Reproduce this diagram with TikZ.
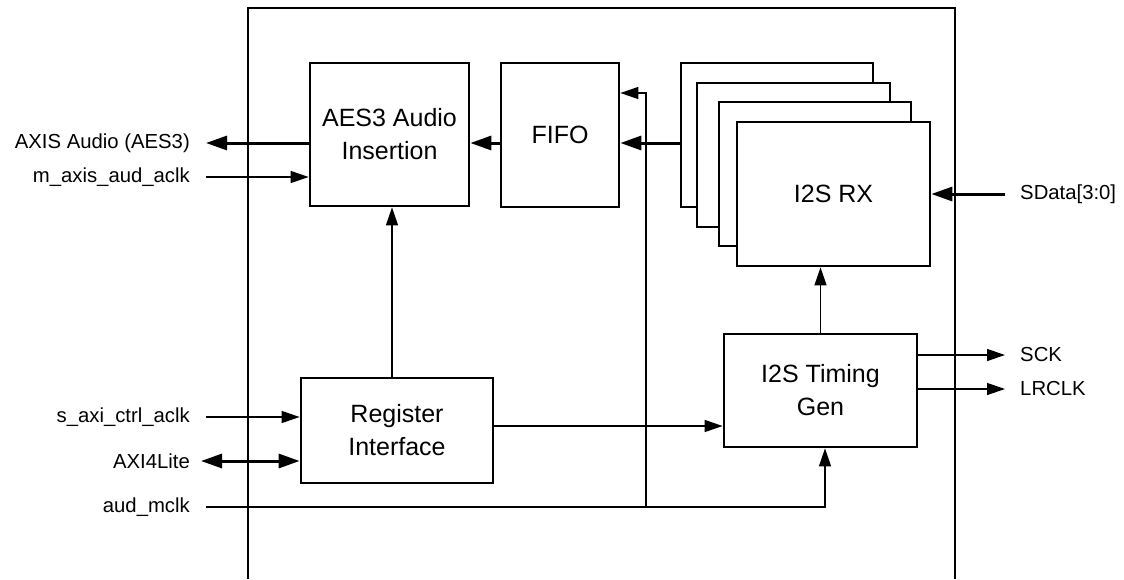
\documentclass[tikz,border=0pt]{standalone}
\usepackage{fontspec}
\setmainfont{Liberation Sans}
\usetikzlibrary{arrows.meta}
\begin{document}
\begin{tikzpicture}[x=1pt,y=-1pt,
  blk/.style={draw, line width=2.7pt, fill=white, align=center, inner sep=0pt,
    font=\fontsize{25}{33}\selectfont},
  lbl/.style={inner ysep=0pt, font=\fontsize{20.3}{23}\selectfont},
  llbl/.style={lbl, anchor=east, inner xsep=16pt},
  rlbl/.style={lbl, anchor=west, inner xsep=15pt},
  thin/.style={line width=1.3pt},
  thk/.style={line width=3pt},
  tarr/.style={thin, -{Triangle[length=18pt,width=12pt]}},
  karr/.style={thk, -{Triangle[length=21pt,width=14pt]}},
  karrb/.style={thk, {Triangle[length=21pt,width=14pt]}-{Triangle[length=21pt,width=14pt]}},
]
\useasboundingbox (0,0) rectangle (1124,579);
% outer frame
\draw[line width=2.5pt] (248,579) -- (248,8) -- (955,8) -- (955,579);

% blocks
\node[blk, minimum width=159pt, minimum height=143pt] (aes) at (389.5,134.5) {AES3 Audio\\Insertion};
\node[blk, minimum width=118pt, minimum height=144pt] (fifo) at (560,135) {FIFO};
\node[blk, minimum width=192pt, minimum height=144pt] (rx1) at (777,135) {};
\node[blk, minimum width=193pt, minimum height=144pt] (rx2) at (793.5,155) {};
\node[blk, minimum width=192pt, minimum height=144pt] (rx3) at (815,174) {};
\node[blk, minimum width=193pt, minimum height=144pt] (rx4) at (833.5,194) {I2S RX};
\node[blk, minimum width=193pt, minimum height=113pt] (tim) at (820.5,390.5) {I2S Timing\\Gen};
\node[blk, minimum width=192pt, minimum height=105pt] (reg) at (397,430.5) {Register\\Interface};

% labels
\node[llbl] (axis) at (206,143) {AXIS Audio (AES3)};
\node[llbl] (maclk) at (206,177) {m\_axis\_aud\_aclk};
\node[llbl] (saxi) at (206,417) {s\_axi\_ctrl\_aclk};
\node[llbl, inner xsep=11pt] (axil) at (201,461) {AXI4Lite};
\node[llbl] (mclk) at (206,507) {aud\_mclk};
\node[rlbl] (sdata) at (1005,194) {SData[3:0]};
\node[rlbl] (sck) at (1005,355) {SCK};
\node[rlbl] (lrclk) at (1005,389) {LRCLK};

\coordinate (br) at (646,507);
\coordinate (regout) at ([yshift=4.5pt]reg.east);

% connectors
\draw[karr] (aes.west |- axis.east) -- (axis.east);
\draw[tarr] (maclk.east) -- (aes.west |- maclk.east);
\draw[karr] (fifo.west |- axis.east) -- (aes.east |- axis.east);
\draw[karr] (rx1.west |- axis.east) -- (fifo.east |- axis.east);
\draw[karr] (sdata.west) -- (rx4.east |- sdata.west);
\draw[tarr] (tim.north) -- (rx4.south -| tim.north);
\draw[tarr] (tim.east |- sck.west) -- (sck.west);
\draw[tarr] (tim.east |- lrclk.west) -- (lrclk.west);
\draw[tarr] ([xshift=-5pt]reg.north) -- ([xshift=-5pt]reg.north |- aes.south);
\draw[tarr] (regout) -- (tim.west |- regout);
\draw[tarr] (saxi.east) -- (reg.west |- saxi.east);
\draw[karrb] (axil.east) -- (reg.west |- axil.east);
\draw[tarr] (mclk.east) -| ([xshift=4.5pt]tim.south);
\draw[tarr] (br) |- ([yshift=42pt]fifo.east);
\end{tikzpicture}
\end{document}
